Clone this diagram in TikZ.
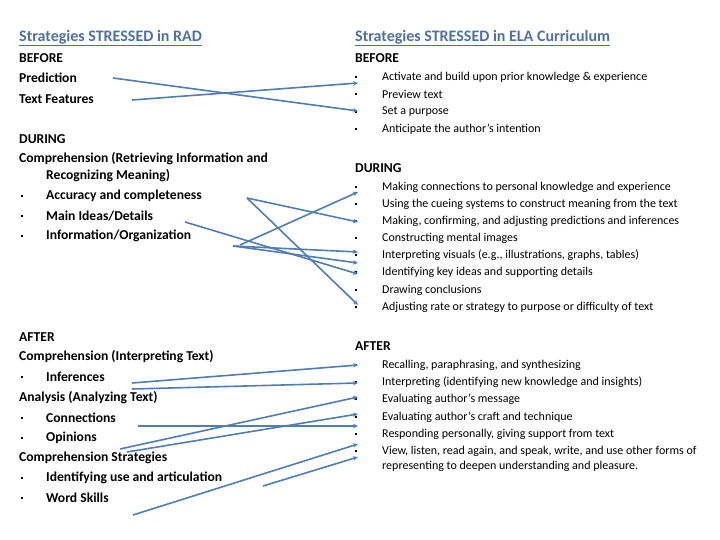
\documentclass[tikz,border=0pt]{standalone}
\usepackage{fontspec}
\setmainfont{Carlito}
\usetikzlibrary{arrows.meta}
\definecolor{headblue}{HTML}{5070A0}
\definecolor{linkblue}{HTML}{4F7DB5}
\tikzset{
  headtxt/.style={anchor=west,inner sep=0pt,font=\fontsize{16}{18}\selectfont\bfseries,text=headblue},
  lefttxt/.style={anchor=west,inner sep=0pt,font=\fontsize{13.6}{15}\selectfont\bfseries},
  righttxt/.style={anchor=west,inner sep=0pt,font=\fontsize{12}{14}\selectfont},
  sqbullet/.style={fill=black,inner sep=0pt,minimum size=2.6pt},
  link/.style={draw=linkblue,line width=1.6pt,-{Stealth[length=5pt,width=4.5pt]}},
}
\begin{document}
\begin{tikzpicture}[x=1pt,y=-1pt]
\useasboundingbox (0,0) rectangle (720,540);
% Titles
\node[headtxt] (radhead) at (19,38) {\underline{Strategies STRESSED in RAD}};
\node[headtxt] (elahead) at (355,38) {\underline{Strategies STRESSED in ELA Curriculum}};

% RAD column
\node[lefttxt] (radbefore) at (19,58) {BEFORE};
\node[lefttxt] (pred) at (19,78) {Prediction};
\node[lefttxt] (tfeat) at (19,99) {Text Features};
\node[lefttxt] (radduring) at (19,139) {DURING};
\node[lefttxt] (retr) at (19,159) {Comprehension (Retrieving Information and};
\node[lefttxt] (recog) at (46,176) {Recognizing Meaning)};
\node[lefttxt] (radafter) at (19,337) {AFTER};
\node[lefttxt] (interp) at (19,357) {Comprehension (Interpreting Text)};
\node[lefttxt] (anal) at (19,398) {Analysis (Analyzing Text)};
\node[lefttxt] (cstrat) at (19,458) {Comprehension Strategies};
\foreach \y/\t/\n in {196/Accuracy and completeness/acc, 216/{Main Ideas/Details}/mid,
    236/{Information/Organization}/org, 377/Inferences/inf, 418/Connections/con,
    438/Opinions/opi, 478/Identifying use and articulation/ide, 498/Word Skills/wsk} {
    \node[sqbullet] (b\n) at (22,\y) {};
    \node[lefttxt] (\n) at (46,\y) {\t};
}

% ELA column
\node[lefttxt] (elabefore) at (355,58) {BEFORE};
\node[lefttxt] (eladuring) at (355,168) {DURING};
\node[lefttxt] (elaafter) at (355,346) {AFTER};
\foreach \y/\t [count=\i] in {77/Activate and build upon prior knowledge \& experience,
    94/Preview text, 112/Set a purpose, 129/Anticipate the author’s intention} {
    \node[sqbullet] (eb\i) at (356,\y) {};
    \node[righttxt] (et\i) at (382,\y) {\t};
}
\foreach \y/\t [count=\i] in {187/Making connections to personal knowledge and experience,
    204/Using the cueing systems to construct meaning from the text,
    221/{Making, confirming, and adjusting predictions and inferences},
    238/Constructing mental images,
    255/{Interpreting visuals (e.g., illustrations, graphs, tables)},
    272/Identifying key ideas and supporting details,
    290/Drawing conclusions,
    307/Adjusting rate or strategy to purpose or difficulty of text} {
    \node[sqbullet] (db\i) at (356,\y) {};
    \node[righttxt] (dt\i) at (382,\y) {\t};
}
\foreach \y/\t [count=\i] in {365/{Recalling, paraphrasing, and synthesizing},
    382/Interpreting (identifying new knowledge and insights),
    399/Evaluating author’s message,
    417/Evaluating author’s craft and technique,
    434/{Responding personally, giving support from text},
    451/{View, listen, read again, and speak, write, and use other forms of}} {
    \node[sqbullet] (ab\i) at (356,\y) {};
    \node[righttxt] (at\i) at (382,\y) {\t};
}
\node[righttxt] (at7) at (382,466) {representing to deepen understanding and pleasure.};

% Connector ends
\coordinate (predend) at (113,78);
\coordinate (tfend) at (132,100);
\coordinate (accend) at (247,198);
\coordinate (midend) at (185,222);
\coordinate (orgend) at (233,246);
\coordinate (orgendb) at (240,245);
\coordinate (infend) at (132,383);
\coordinate (infendb) at (132,389);
\coordinate (conend) at (138,426);
\coordinate (opiend) at (120,449);
\coordinate (opiendb) at (127,452);
\coordinate (ideend) at (263,486);
\coordinate (wskend) at (133,515);
\foreach \n/\y in {b1/83, b3/111, d1/192, d3/222, d5/252, d6/263, d7/274, d8/305,
    a1/365, a2/383, a3/397, a4/414, a5/426, a6/444, a7/457} {
    \coordinate (t\n) at (358,\y);
}

% Connectors
\draw[link] (predend) -- (tb3);
\draw[link] (tfend) -- (tb1);
\draw[link] (accend) -- (td3);
\draw[link] (accend) -- (td8);
\draw[link] (midend) -- (td7);
\draw[link] (orgend) -- (td5);
\draw[link] (orgend) -- (td6);
\draw[link] (orgendb) -- (td1);
\draw[link] (infend) -- (ta1);
\draw[link] (infendb) -- (ta2);
\draw[link] (conend) -- (ta5);
\draw[link] (opiend) -- (ta3);
\draw[link] (opiendb) -- (ta4);
\draw[link] (wskend) -- (ta6);
\draw[link] (ideend) -- (ta7);
\end{tikzpicture}
\end{document}
